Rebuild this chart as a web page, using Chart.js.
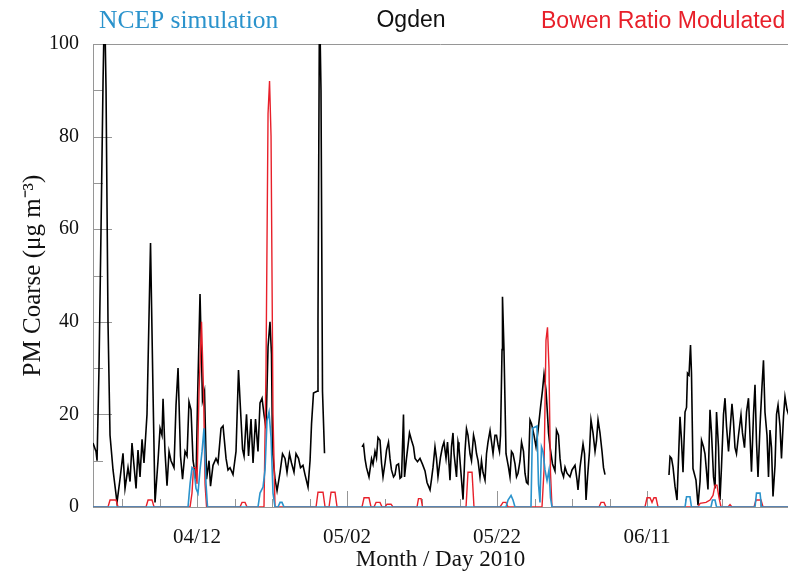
<!DOCTYPE html>
<html>
<head>
<meta charset="utf-8">
<script src="https://cdn.jsdelivr.net/npm/chart.js@4.4.1/dist/chart.umd.min.js"></script>
<style>
    html, body { margin: 0; padding: 0; background: #fff; }
</style>
</head>
<body>
<canvas id="pm-chart" width="788" height="578"></canvas>
<script>
// x values are day of year 2010 (102 = 04/12), y values are PM coarse in ug/m3
const ogdenDay = [
    88.13, 88.53, 88.67, 88.93, 89.20, 89.47, 89.67, 89.87, 90.13, 90.40, 90.80, 91.33, 91.73, 92.13, 92.40,
    92.80, 93.07, 93.33, 93.87, 94.13, 94.40, 94.67, 94.93, 95.33, 95.80, 96.13, 96.40, 96.80, 97.07, 97.33,
    97.47, 97.73, 98.00, 98.27, 98.53, 98.93, 99.20, 99.47, 99.80, 100.07, 100.40, 100.67, 100.93, 101.20, 101.47,
    101.87, 102.07, 102.40, 102.73, 103.00, 103.27, 103.60, 103.80, 104.13, 104.53, 104.80, 105.20, 105.47, 105.87, 106.13,
    106.40, 106.80, 107.20, 107.53, 107.80, 108.07, 108.27, 108.60, 108.87, 109.20, 109.47, 109.80, 110.13, 110.40, 110.67,
    110.93, 111.20, 111.47, 111.73, 111.93, 112.07, 112.40, 112.67, 113.07, 113.40, 113.73, 114.00, 114.33, 114.60, 114.93,
    115.20, 115.53, 115.80, 116.13, 116.40, 116.80, 117.07, 117.27, 117.53, 118.00, 118.13, 118.33, 118.53, 118.73, 119.00,
    119.50,
    124.00, 124.20, 124.40, 124.60, 124.93, 125.27, 125.47, 125.73, 125.93, 126.13, 126.40, 126.60, 126.80, 127.07, 127.27,
    127.53, 127.73, 127.93, 128.20, 128.40, 128.60, 128.87, 129.07, 129.27, 129.53, 129.67, 129.93, 130.33, 130.60, 130.87,
    131.07, 131.40, 131.73, 132.07, 132.40, 132.67, 133.07, 133.27, 133.47, 133.73, 133.93, 134.13, 134.47, 134.73, 134.93,
    135.20, 135.40, 135.60, 135.73, 135.93, 136.13, 136.27, 136.60, 136.80, 136.93, 137.27, 137.47, 137.73, 137.93, 138.13,
    138.40, 138.60, 138.87, 139.07, 139.27, 139.47, 139.73, 139.93, 140.13, 140.40, 140.60, 140.80, 141.07, 141.27, 141.47,
    141.73, 141.93, 142.13, 142.33, 142.47, 142.67, 142.73, 142.93, 143.20, 143.53, 143.73, 143.93, 144.13, 144.40, 144.60,
    144.80, 145.07, 145.27, 145.53, 145.73, 145.93, 146.13, 146.40, 146.60, 146.93, 147.20, 147.47, 147.80, 148.07, 148.27,
    148.53, 148.73, 148.87, 149.07, 149.40, 149.73, 149.93, 150.20, 150.40, 150.60, 150.87, 151.07, 151.33, 151.73, 152.00,
    152.40, 152.67, 152.80, 153.07, 153.47, 153.67, 153.87, 154.07, 154.33, 154.53, 154.80, 155.07, 155.27, 155.47, 155.73,
    156.00, 156.20, 156.40,
    157.00,
    164.93, 165.07, 165.27, 165.47, 165.73, 166.00, 166.20, 166.40, 166.60, 166.80, 167.07, 167.27, 167.40, 167.60, 167.80,
    167.93, 168.13, 168.53, 168.80, 169.07, 169.27, 169.53, 169.73, 169.93, 170.13, 170.40, 170.60, 170.87, 171.07, 171.27,
    171.53, 171.73, 171.93, 172.20, 172.40, 172.60, 172.87, 173.07, 173.33, 173.53, 173.73, 173.93, 174.20, 174.53, 174.73,
    175.00, 175.27, 175.53, 175.73, 175.93, 176.20, 176.40, 176.60, 176.80, 177.07, 177.33, 177.53, 177.73, 178.00, 178.20,
    178.40, 178.60, 178.80, 179.07, 179.27, 179.47, 179.73, 179.93, 180.20, 180.40, 180.67, 181.07
];
const ogdenPM = [
    13.8, 12, 10, 30, 60, 92, 110, 90, 40, 15.5, 8, 1, 6, 11.6, 4,
    8.5, 5.5, 13.8, 4, 12.3, 6.5, 14.6, 9.5, 20, 57, 25, 1, 10, 17, 15.5,
    23.4, 12, 4.6, 12, 10, 8.5, 22, 30, 11, 6, 12, 11, 22.7, 21, 10,
    6, 23, 46, 23, 25, 6, 10, 4.5, 9, 10.5, 9.5, 17, 17.5, 10.5, 8,
    8.5, 7, 12, 29.6, 21, 12.5, 11, 20, 11, 19, 9.5, 19, 12, 22.5, 23.5,
    20, 17, 34.6, 40, 33, 12, 6, 3.5, 7.5, 11.5, 10.5, 7.5, 11.5, 9.5, 7.5,
    11.5, 10.5, 8.5, 9, 7, 4.3, 10, 18, 24.6, 25, 40, 110, 90, 25, 11.6,
    null,
    13, 13.5, 10.4, 8.5, 6.5, 10.4, 9.2, 12, 10.6, 15, 14.4, 9.5, 6.5, 9.5, 12.3,
    14, 10.5, 8, 6.5, 7, 9, 9.3, 6.2, 6.5, 20, 6.5, 10.5, 16, 14.4, 13,
    10.5, 9.8, 10.5, 9.2, 7.8, 5.3, 3.7, 6, 8.6, 13, 10.5, 6.5, 10.8, 13, 14,
    10.5, 14, 9.3, 5.8, 13, 16, 11.5, 6.5, 14, 12.8, 5.8, 1.6, 12, 16.9, 15.5,
    11.5, 10, 15.5, 14, 11.5, 10, 6.5, 10, 7.5, 5.8, 11.5, 14, 16.5, 14, 11.5,
    15.5, 15.5, 13.5, 12, 15.5, 34, 45.4, 34, 11.5, 8.6, 6.5, 12, 11.5, 9.3, 6.5,
    7.3, 10, 14, 12, 7.3, 5.3, 5, 18.8, 18, 15.5, 13, 16.5, 21.5, 25.3, 28.7,
    25.3, 20, 16, 13, 9.3, 7.8, 16.6, 15.5, 10.5, 7.8, 6.5, 8.6, 7.3, 6.5, 8,
    9, 5.8, 3.7, 8.6, 13.6, 11.5, 1.5, 6.5, 12, 18.8, 16, 12, 14.4, 18.8, 16,
    12, 8.5, 7,
    null,
    6.9, 10.9, 10.5, 8.6, 4.5, 1.5, 10.4, 19.5, 14.4, 7.5, 20.5, 21.5, 28.9, 28.5, 35,
    29, 8.3, 5.8, 0.4, 5.5, 14.4, 13, 11.5, 7.8, 3.8, 21, 16, 6.5, 4, 20.5,
    13, 1.5, 8.6, 20, 23.5, 17.5, 12, 16.5, 22.3, 18.5, 12.8, 11.5, 15.5, 19.9, 16,
    12.8, 20.5, 23.5, 15.5, 7.6, 20, 26.4, 14, 6.5, 17.5, 26, 31.7, 20.5, 15.5, 6.5,
    16.6, 12.8, 2.3, 9, 20, 22, 17.5, 10.5, 19.5, 23.8, 21, 19
];

const bowenDay = [
    88.13, 90.13, 90.40, 91.20, 91.47, 95.20, 95.47, 96.00, 96.27,
    101.07, 101.33, 101.53, 101.80, 102.00, 102.27, 102.60, 102.87, 103.07, 103.27,
    107.73, 108.00, 108.40, 108.67,
    110.93, 111.20, 111.47, 111.67, 111.87, 112.13, 112.40,
    117.87, 118.13, 118.80, 119.07, 119.60, 119.87, 120.40, 120.67,
    124.00, 124.27, 124.93, 125.20, 125.60, 125.87, 126.40, 126.67, 127.07, 127.33, 127.87, 128.13,
    131.33, 131.53, 131.87, 132.07,
    137.87, 138.13, 138.67, 138.93, 142.40, 142.80, 143.20, 143.47,
    148.00, 148.27, 148.53, 148.73, 148.93, 149.13, 149.33,
    155.60, 155.87, 156.27, 156.53,
    161.73, 162.00, 162.40, 162.67, 162.93, 163.20, 163.47,
    168.80, 169.07, 169.87, 170.40, 170.80, 171.07, 171.33, 171.60, 171.87,
    172.80, 173.07, 173.33, 176.27, 176.53, 177.20, 177.47, 181.07
];
const bowenPM = [
    0, 0, 1.5, 1.5, 0, 0, 1.5, 1.5, 0,
    0, 3, 8.5, 8.5, 5, 25, 40, 25, 5, 0,
    0, 1, 1, 0,
    0, 30, 85, 92, 80, 20, 0,
    0, 3.2, 3.2, 0, 0, 3.2, 3.2, 0,
    0, 2, 2, 0, 0, 1, 1, 0, 0, 0.6, 0.6, 0,
    0, 1.8, 1.8, 0,
    0, 7.5, 7.5, 0, 0, 1, 1, 0,
    0, 8, 36, 38.8, 30, 7.5, 0,
    0, 1, 1, 0,
    0, 2, 2, 1, 2, 2, 0,
    0, 0.8, 1, 1.5, 2.5, 4.7, 4.7, 2, 0,
    0, 0.5, 0, 0, 1.5, 1.5, 0, 0
];

const ncepDay = [
    88.13, 100.80, 101.07, 101.33, 101.60, 101.87, 102.13, 102.40, 102.67, 102.93, 103.20, 103.40,
    110.13, 110.40, 110.80, 111.07, 111.33, 111.60, 111.87, 112.13, 112.40,
    112.80, 113.07, 113.33, 113.60,
    143.20, 143.47, 143.87, 144.13, 144.40,
    146.53, 146.73, 147.33, 147.53, 147.73, 147.93, 148.13, 148.40, 148.67, 148.93, 149.13, 149.33,
    167.07, 167.27, 167.73, 167.93, 170.53, 170.73, 171.07, 171.27,
    176.40, 176.60, 177.07, 177.27, 181.07
];
const ncepPM = [
    0, 0, 5, 8.5, 8, 4, 3, 8, 12, 17, 5, 0,
    0, 3, 4.3, 8, 18.6, 20.5, 15, 3, 0,
    0, 1, 1, 0,
    0, 1.5, 2.5, 1.5, 0,
    0, 17, 17.5, 5, 1, 13, 12, 8, 5.7, 8, 2, 0,
    0, 2.2, 2.2, 0, 0, 1.5, 1.5, 0,
    0, 3, 3, 0, 0
];

const labelDays = [102, 122, 142, 162];
const tickDays = [92, 97, 102, 107, 112, 117, 122, 127, 132, 137, 142, 147, 152, 157, 162, 167, 172, 177];
const yTicks = [10, 20, 30, 40, 50, 60, 70, 80, 90];

const axisGrey = '#969696';
const ncepBlue = '#2b93cc';
const bowenRed = '#e8202a';

function toPoints(days, values) {
    return days.map((d, i) => ({ x: d, y: values[i] }));
}

function dayLabel(doy) {
    const date = new Date(2010, 0, doy);
    const mm = String(date.getMonth() + 1).padStart(2, '0');
    const dd = String(date.getDate()).padStart(2, '0');
    return `${mm}/${dd}`;
}

// inside tick marks + top frame line, drawn under the data
const frameTicks = {
    id: 'frameTicks',
    beforeDatasetsDraw(chart) {
        const { ctx, chartArea, scales: { x, y } } = chart;
        ctx.save();
        ctx.strokeStyle = axisGrey;
        ctx.lineWidth = 1;
        ctx.beginPath();
        ctx.moveTo(chartArea.left, chartArea.top + 0.5);
        ctx.lineTo(chartArea.right, chartArea.top + 0.5);
        yTicks.forEach(v => {
            const py = Math.round(y.getPixelForValue(v)) + 0.5;
            const len = v % 20 === 0 ? 19 : 10;
            ctx.moveTo(chartArea.left, py);
            ctx.lineTo(chartArea.left + len, py);
        });
        tickDays.forEach(d => {
            const px = Math.round(x.getPixelForValue(d)) + 0.5;
            const len = labelDays.includes(d) ? 16 : 8;
            ctx.moveTo(px, chartArea.bottom);
            ctx.lineTo(px, chartArea.bottom - len);
        });
        ctx.stroke();
        ctx.restore();
    },
    afterDraw(chart) {
        // series names above the plot
        const ctx = chart.ctx;
        ctx.save();
        ctx.textBaseline = 'alphabetic';
        ctx.textAlign = 'left';
        ctx.font = '25.5px "Liberation Serif"';
        ctx.fillStyle = ncepBlue;
        ctx.fillText('NCEP simulation', 99, 28);
        ctx.font = '23px "Liberation Sans"';
        ctx.fillStyle = '#111';
        ctx.textAlign = 'center';
        ctx.fillText('Ogden', 411, 27);
        ctx.fillStyle = bowenRed;
        ctx.textAlign = 'left';
        ctx.fillText('Bowen Ratio Modulated', 541, 28);
        ctx.restore();
    }
};

new Chart(document.getElementById('pm-chart').getContext('2d'), {
    type: 'line',
    data: {
        datasets: [
            {
                label: 'NCEP simulation',
                data: toPoints(ncepDay, ncepPM),
                borderColor: ncepBlue,
                borderWidth: 1.6
            },
            {
                label: 'Bowen Ratio Modulated',
                data: toPoints(bowenDay, bowenPM),
                borderColor: bowenRed,
                borderWidth: 1.4
            },
            {
                label: 'Ogden',
                data: toPoints(ogdenDay, ogdenPM),
                borderColor: '#000',
                borderWidth: 1.6
            }
        ]
    },
    options: {
        responsive: false,
        animation: false,
        devicePixelRatio: 1,
        layout: { padding: { top: 44, right: 0, left: 0, bottom: 0 } },
        elements: {
            point: { radius: 0 },
            line: { tension: 0, fill: false }
        },
        spanGaps: false,
        scales: {
            x: {
                type: 'linear',
                min: 88.13,
                max: 180.8,
                afterBuildTicks: s => { s.ticks = labelDays.map(v => ({ value: v })); },
                afterFit: s => { s.height = 71; },
                grid: { display: false },
                border: { display: true, color: axisGrey },
                ticks: {
                    autoSkip: false,
                    maxRotation: 0,
                    padding: 10,
                    color: '#111',
                    font: { family: 'Liberation Serif', size: 21 },
                    callback: v => dayLabel(v)
                },
                title: {
                    display: true,
                    text: 'Month / Day 2010',
                    color: '#111',
                    font: { family: 'Liberation Serif', size: 23 },
                    padding: { top: 0, bottom: 4 }
                }
            },
            y: {
                min: 0,
                max: 100,
                afterFit: s => { s.width = 93; },
                grid: { display: false },
                border: { display: true, color: axisGrey },
                ticks: {
                    stepSize: 20,
                    padding: 6,
                    color: '#111',
                    font: { family: 'Liberation Serif', size: 20 }
                },
                title: {
                    display: true,
                    text: 'PM Coarse (μg m⁻³)',
                    color: '#111',
                    font: { family: 'Liberation Serif', size: 25 },
                    padding: { top: 18, bottom: 0 }
                }
            }
        },
        plugins: {
            legend: { display: false },
            tooltip: { enabled: false }
        }
    },
    plugins: [frameTicks]
});
</script>
</body>
</html>
